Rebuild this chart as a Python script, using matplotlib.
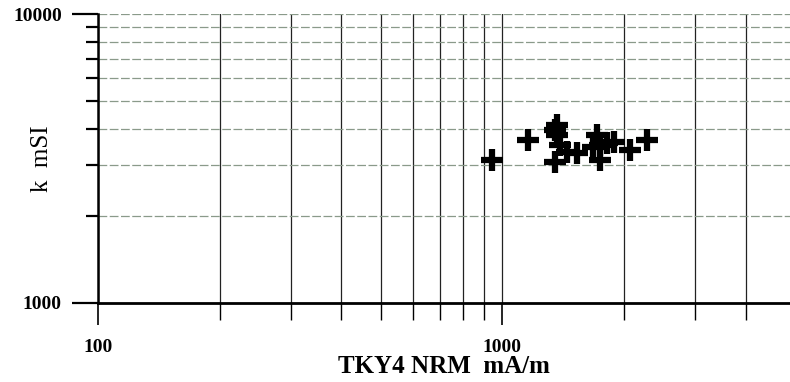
import numpy as np
import matplotlib
matplotlib.use("Agg")
import matplotlib.pyplot as plt
from matplotlib.ticker import FixedLocator, NullFormatter

plt.rcParams.update({
    "font.family": ["Liberation Serif", "DejaVu Serif"],
    "font.size": 12,
})

# NRM (mA/m) vs susceptibility k (mSI), TKY4
nrm = [944, 1159, 1368, 1368, 1353, 1387, 1353, 1449, 1533,
       1718, 1749, 1749, 1820, 1680, 1885, 2075, 2285]
k_msi = [3126, 3664, 4130, 3811, 3970, 3524, 3079, 3327, 3304,
         3811, 3524, 3126, 3580, 3468, 3607, 3381, 3664]

x_major = [100, 1000]
x_minor = [200, 300, 400, 500, 600, 700, 800, 900, 2000, 3000, 4000]
y_major = [1000, 10000]
y_minor = [2000, 3000, 4000, 5000, 6000, 7000, 8000, 9000]

fig = plt.figure(figsize=(7.9, 3.82), dpi=100)
ax = fig.add_axes([0.124, 0.207, 0.876, 0.756])
ax.set_xscale("log")
ax.set_yscale("log")
ax.set_xlim(100, 5150)
ax.set_ylim(1000, 10000)

# vertical grid: dark solid lines
for xv in x_major + x_minor:
    ax.axvline(xv, color="#222222", lw=0.9, zorder=1)
# horizontal grid: light broken lines
for yv in y_minor + [10000]:
    ax.axhline(yv, color="#8a9a8a", lw=0.9, ls=(0, (7, 2)), zorder=1)

ax.plot(nrm, k_msi, ls="none", marker="+", ms=16, mew=4.5, color="black", zorder=3)

ax.xaxis.set_major_locator(FixedLocator(x_major))
ax.xaxis.set_minor_locator(FixedLocator(x_minor))
ax.yaxis.set_major_locator(FixedLocator(y_major))
ax.yaxis.set_minor_locator(FixedLocator(y_minor))
ax.xaxis.set_minor_formatter(NullFormatter())
ax.yaxis.set_minor_formatter(NullFormatter())
ax.set_xticklabels(["100", "1000"], fontweight="bold", fontsize=14)
ax.set_yticklabels(["1000", "10000"], fontweight="bold", fontsize=14)

ax.tick_params(axis="x", which="major", direction="out", length=16, width=1.2, pad=10)
ax.tick_params(axis="x", which="minor", direction="out", length=12, width=1.0)
ax.tick_params(axis="y", which="major", direction="out", length=19, width=1.6, pad=7)
ax.tick_params(axis="y", which="minor", direction="out", length=9, width=1.6)

for s in ["top", "right"]:
    ax.spines[s].set_visible(False)
ax.spines["left"].set_linewidth(1.8)
ax.spines["bottom"].set_linewidth(2.0)

ax.set_xlabel("TKY4 NRM  mA/m", fontsize=18, fontweight="bold", labelpad=-1)
fig.text(0.053, 0.585, "k  mSI", fontsize=18, rotation=90, ha="center", va="center")

fig.savefig("out.png", dpi=100)
